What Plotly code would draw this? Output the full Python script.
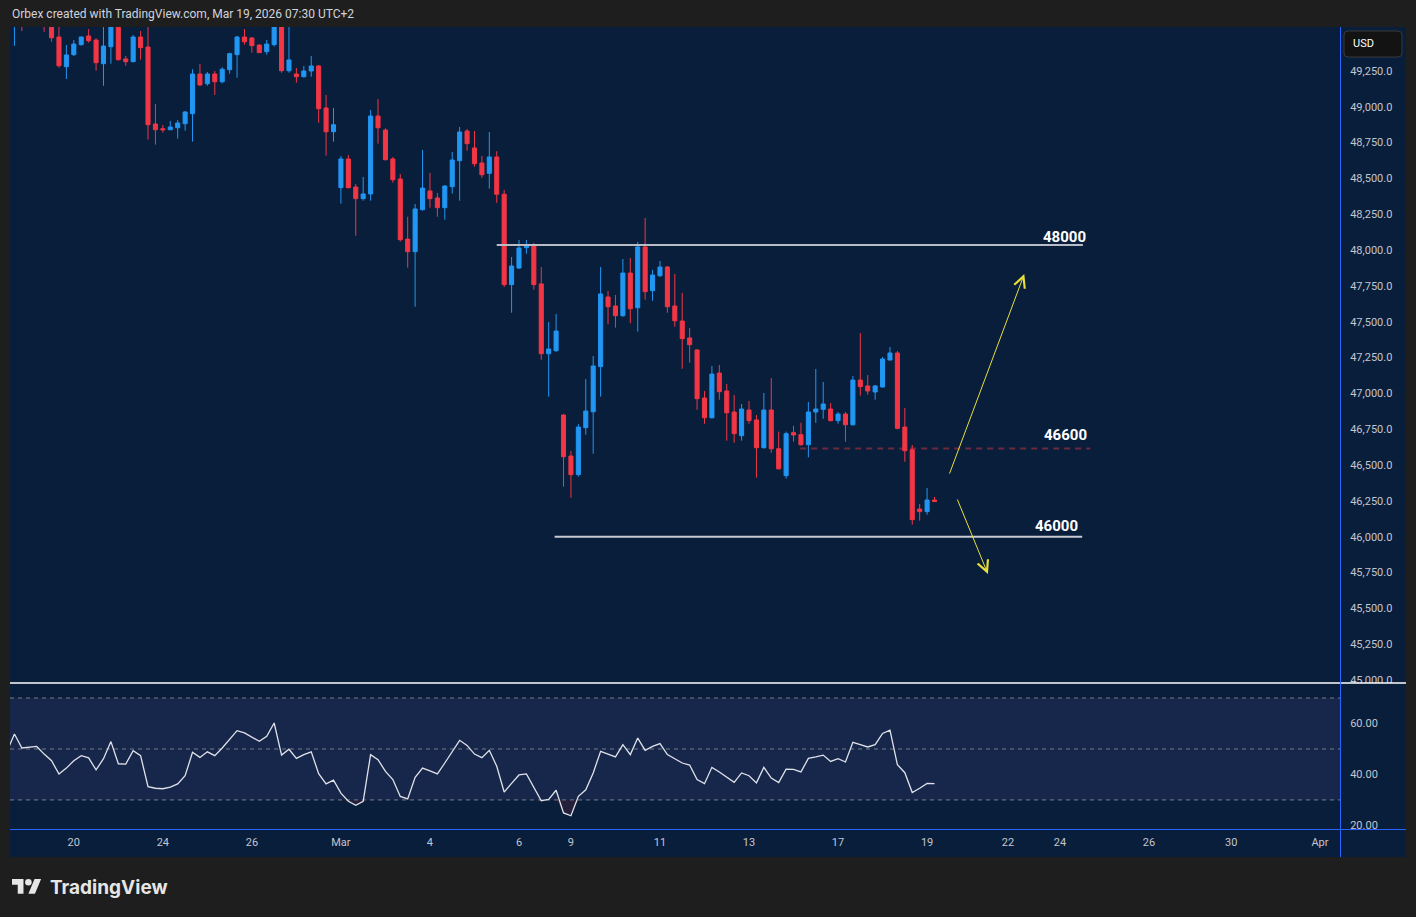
import plotly.graph_objects as go

# ---------------- data ----------------
bar_index = list(range(-8, 117))   # 4-hour bars; 0 = first bar of Feb 20

open_ = [
    49580, 49640, 49610, 49650, 49640, 49600, 49487, 49280,               # -8..-1
    49364, 49434, 49494, 49466, 49301, 49420, 49600, 49334, 49315, 49487,  # 0..9
    49417, 48880, 48847, 48840, 48854, 48882, 48952, 49229, 49161, 49229,  # 10..19
    49175, 49259, 49364, 49487, 49480, 49431, 49385, 49434, 49600, 49252,  # 20..29
    49229, 49210, 49250, 49285, 48992, 48826, 48436, 48636, 48440, 48359,  # 30..39
    48392, 48936, 48838, 48636, 48496, 48077, 47989, 48282, 48413, 48364,  # 40..49
    48296, 48443, 48624, 48831, 48713, 48608, 48536, 48650, 48390, 47759,  # 50..59
    47875, 48017, 48036, 47764, 47277, 47298, 46849, 46563, 46433, 46761,  # 60..69
    46872, 47187, 47673, 47610, 47542, 47840, 47598, 48022, 47717, 47821,  # 70..79
    47882, 47610, 47505, 47387, 47303, 46968, 46830, 47142, 47017, 46870,  # 80..89
    46705, 46884, 46815, 46621, 46884, 46614, 46426, 46726, 46712, 46642,  # 90..99
    46870, 46889, 46891, 46810, 46856, 46781, 47093, 47052, 47010, 47045,  # 100..109
    47233, 47282, 46765, 46607, 46193, 46175, 46256,                       # 110..116
]
high = [
    49700, 49700, 49700, 49720, 49700, 49650, 49600, 49431,
    49466, 49490, 49543, 49478, 49600, 49620, 49650, 49355, 49501, 49529,
    49570, 49020, 48873, 48901, 48908, 48971, 49262, 49299, 49243, 49250,
    49276, 49378, 49496, 49543, 49487, 49435, 49466, 49620, 49650, 49600,
    49271, 49285, 49355, 49292, 49083, 48992, 48657, 48664, 48461, 48510,
    48978, 49055, 48850, 48650, 48531, 48233, 48322, 48699, 48538, 48399,
    48454, 48685, 48859, 48845, 48831, 48657, 48824, 48690, 48420, 47952,
    48071, 48071, 48050, 47882, 47498, 47554, 46856, 46598, 46786, 47100,
    47261, 47882, 47715, 47687, 47938, 47945, 48057, 48224, 47861, 47924,
    47889, 47833, 47701, 47456, 47310, 47017, 47191, 47198, 47066, 46989,
    46926, 46947, 46849, 47003, 47107, 46733, 46733, 46774, 46795, 46940,
    47170, 47080, 46933, 46870, 46870, 47121, 47421, 47128, 47059, 47254,
    47324, 47296, 46898, 46640, 46228, 46340, 46277,
]
low = [
    49426, 49529, 49570, 49580, 49524, 49454, 49273, 49194,
    49355, 49426, 49448, 49252, 49147, 49301, 49322, 49287, 49310, 49329,
    48771, 48736, 48820, 48838, 48778, 48833, 48757, 49147, 49147, 49083,
    49164, 49231, 49203, 49434, 49378, 49375, 49364, 49420, 49238, 49238,
    49168, 49205, 49210, 48889, 48659, 48757, 48324, 48430, 48100, 48345,
    48345, 48743, 48625, 48470, 48059, 47877, 47605, 48275, 48296, 48233,
    48212, 48394, 48345, 48694, 48582, 48505, 48429, 48330, 47742, 47563,
    47868, 47975, 47724, 47235, 46977, 47290, 46349, 46272, 46419, 46712,
    46579, 46977, 47482, 47459, 47535, 47489, 47431, 47654, 47647, 47814,
    47563, 47465, 47172, 47214, 46886, 46788, 46825, 46956, 46670, 46656,
    46670, 46788, 46412, 46615, 46586, 46468, 46405, 46663, 46635, 46554,
    46795, 46823, 46805, 46788, 46663, 46775, 46984, 46991, 46956, 47040,
    47230, 46749, 46523, 46084, 46112, 46154, 46243,
]
close = [
    49650, 49590, 49650, 49620, 49590, 49482, 49287, 49362,
    49438, 49487, 49461, 49308, 49424, 49580, 49329, 49315, 49487, 49413,
    48875, 48840, 48840, 48859, 48887, 48964, 49229, 49152, 49229, 49175,
    49262, 49371, 49487, 49454, 49427, 49378, 49438, 49580, 49252, 49327,
    49210, 49250, 49285, 48987, 48826, 48875, 48636, 48436, 48359, 48392,
    48936, 48854, 48631, 48491, 48073, 47989, 48287, 48433, 48359, 48296,
    48447, 48629, 48824, 48743, 48603, 48526, 48650, 48390, 47759, 47889,
    48015, 48036, 47759, 47277, 47310, 47435, 46558, 46433, 46765, 46877,
    47191, 47694, 47605, 47542, 47840, 47591, 48022, 47710, 47826, 47882,
    47605, 47507, 47382, 47340, 46963, 46830, 47135, 47012, 46865, 46719,
    46891, 46810, 46621, 46884, 46614, 46474, 46719, 46710, 46642, 46870,
    46891, 46926, 46810, 46856, 46781, 47093, 47047, 47017, 47052, 47240,
    47282, 46756, 46600, 46119, 46175, 46256, 46245,
]

rsi_index = list(range(-9, 117))
rsi = [
    49.1, 55.9, 50.4, 50.6, 51.0, 48.0, 45.4, 40.2, 42.5,                # -9..-1
    45.4, 47.4, 46.5, 41.8, 46.2, 52.9, 44.2, 44.1, 49.3, 47.4,          # 0..9
    35.2, 34.6, 34.4, 35.0, 36.3, 39.5, 48.7, 46.7, 48.9, 47.4,          # 10..19
    50.4, 53.6, 57.2, 56.3, 54.8, 53.0, 55.0, 60.2, 47.6, 49.9,          # 20..29
    46.3, 47.8, 48.9, 40.3, 36.3, 37.8, 32.7, 29.5, 27.9, 29.5,          # 30..39
    47.8, 45.8, 41.2, 38.0, 31.4, 30.4, 38.9, 42.5, 41.4, 40.2,          # 40..49
    44.5, 48.7, 53.4, 51.4, 48.0, 46.6, 49.5, 43.2, 33.1, 36.5,          # 50..59
    39.8, 40.2, 35.0, 29.7, 30.2, 33.8, 24.9, 23.8, 31.4, 34.0,          # 60..69
    40.6, 49.1, 48.0, 46.9, 51.7, 47.8, 54.3, 49.5, 51.0, 52.1,          # 70..79
    47.8, 46.2, 44.5, 43.7, 38.0, 36.4, 42.8, 41.0, 38.9, 36.9,          # 80..89
    40.6, 39.5, 36.7, 42.8, 38.6, 36.8, 42.1, 42.0, 41.0, 46.3,          # 90..99
    46.9, 47.6, 45.1, 46.2, 44.9, 52.6, 51.7, 50.8, 51.7, 56.1,          # 100..109
    57.4, 43.8, 40.7, 32.9, 34.6, 36.5, 36.4,                            # 110..116
]

date_tick_pos = [0, 12, 24, 36, 48, 60, 67, 79, 91, 103, 115, 125.9, 132.9, 144.9, 156.0, 167.95]
date_tick_text = ["20", "24", "26", "Mar", "4", "6", "9", "11", "13", "17", "19", "22", "24", "26", "30", "Apr"]

price_ticks = [45000 + 250 * k for k in range(18)]   # 45,000 .. 49,250
rsi_ticks = [20, 40, 60]

level_prices = [48035, 46615, 46000]
level_labels = ["48000", "46600", "46000"]
level_start = [57.0, 97.9, 64.8]
level_end = [136.0, 137.0, 135.9]

assert len(open_) == len(high) == len(low) == len(close) == len(bar_index)
assert len(rsi) == len(rsi_index)

# ---------------- styling ----------------
W, H = 1416, 917
ML, MR, MT, MB = 10, 76, 27, 88
PW, PH = W - ML - MR, H - MT - MB
SPLIT_PX = 683
Y_SPLIT = (H - MB - SPLIT_PX) / PH

def PX(px):
    return (px - ML) / PW

def PY(py):
    return (H - MB - py) / PH

OUTER = "#1e1e1e"
NAVY = "#091e3b"
BAND = "#17274b"
UP = "#2196f3"
DN = "#f23645"
AXBLUE = "#2962ff"
TXT = "#c3c6ce"
FONT = "Roboto, Arial, sans-serif"

X_RANGE = [-8.6, 170.65]

fig = go.Figure()

fig.add_trace(go.Candlestick(
    x=bar_index, open=open_, high=high, low=low, close=close,
    increasing=dict(line=dict(color=UP, width=1), fillcolor=UP),
    decreasing=dict(line=dict(color=DN, width=1), fillcolor=DN),
    whiskerwidth=0, xaxis="x", yaxis="y", showlegend=False, hoverinfo="skip",
))

# faint oversold fill under RSI 30
fig.add_trace(go.Scatter(
    x=rsi_index, y=[30] * len(rsi), mode="lines", line=dict(width=0),
    xaxis="x2", yaxis="y2", showlegend=False, hoverinfo="skip",
))
fig.add_trace(go.Scatter(
    x=rsi_index, y=[min(v, 30) for v in rsi], mode="lines", line=dict(width=0),
    fill="tonexty", fillcolor="rgba(160,45,60,0.18)",
    xaxis="x2", yaxis="y2", showlegend=False, hoverinfo="skip",
))
fig.add_trace(go.Scatter(
    x=rsi_index, y=rsi, mode="lines", line=dict(color="#dfe2e8", width=1.3),
    xaxis="x2", yaxis="y2", showlegend=False, hoverinfo="skip",
))

shapes = []
# navy chart panel
shapes.append(dict(type="rect", xref="paper", yref="paper",
                   x0=PX(10), x1=PX(1406), y0=PY(857), y1=PY(27),
                   fillcolor=NAVY, line=dict(width=0), layer="below"))
# RSI band and levels
shapes.append(dict(type="rect", xref="x2 domain", yref="y2", x0=0, x1=1, y0=30, y1=70,
                   fillcolor=BAND, line=dict(width=0), layer="below"))
for lv in (70, 50, 30):
    shapes.append(dict(type="line", xref="x2 domain", yref="y2", x0=0, x1=1, y0=lv, y1=lv,
                       line=dict(color="#787b86", width=1, dash="4px,4px"), layer="below"))

# horizontal drawn levels
level_styles = [
    dict(color="#b8bcc6", width=2),
    dict(color="rgba(242,54,69,0.45)", width=2, dash="6px,5px"),
    dict(color="#c8cbd3", width=2),
]
for p, x0, x1, st in zip(level_prices, level_start, level_end, level_styles):
    shapes.append(dict(type="line", xref="x", yref="y", x0=x0, x1=x1, y0=p, y1=p,
                       line=st, layer="above"))

# hide the halves of the clipped axis labels
shapes.append(dict(type="rect", xref="paper", yref="paper", x0=PX(1341), x1=PX(1406),
                   y0=PY(700), y1=PY(683), fillcolor=NAVY, line=dict(width=0), layer="above"))
shapes.append(dict(type="rect", xref="paper", yref="paper", x0=PX(1341), x1=PX(1406),
                   y0=PY(846), y1=PY(829), fillcolor=NAVY, line=dict(width=0), layer="above"))
# pane separator
shapes.append(dict(type="line", xref="paper", yref="paper", x0=PX(10), x1=PX(1406),
                   y0=PY(683), y1=PY(683), line=dict(color="#ffffff", width=1.5), layer="above"))
# axis borders
shapes.append(dict(type="line", xref="paper", yref="paper", x0=PX(1340.5), x1=PX(1340.5),
                   y0=PY(857), y1=PY(27), line=dict(color=AXBLUE, width=1), layer="above"))
shapes.append(dict(type="line", xref="paper", yref="paper", x0=PX(10), x1=PX(1406),
                   y0=PY(829.5), y1=PY(829.5), line=dict(color=AXBLUE, width=1), layer="above"))

# USD box with rounded corners
bx0, bx1, by0, by1, r = 1344, 1402, 31, 57, 4
usd_path = (
    f"M {PX(bx0 + r)},{PY(by0)} L {PX(bx1 - r)},{PY(by0)} "
    f"Q {PX(bx1)},{PY(by0)} {PX(bx1)},{PY(by0 + r)} L {PX(bx1)},{PY(by1 - r)} "
    f"Q {PX(bx1)},{PY(by1)} {PX(bx1 - r)},{PY(by1)} L {PX(bx0 + r)},{PY(by1)} "
    f"Q {PX(bx0)},{PY(by1)} {PX(bx0)},{PY(by1 - r)} L {PX(bx0)},{PY(by0 + r)} "
    f"Q {PX(bx0)},{PY(by0)} {PX(bx0 + r)},{PY(by0)} Z"
)
shapes.append(dict(type="path", xref="paper", yref="paper", path=usd_path,
                   fillcolor="#131313", line=dict(color="#3a3a3a", width=1), layer="above"))

# TradingView logo icon
s, ox, oy = 0.82, 12, 879

def logo_pt(u, v):
    return f"{PX(ox + u * s):.5f},{PY(oy + (v - 4) * s):.5f}"

def logo_path(pts):
    return "M " + " L ".join(logo_pt(u, v) for u, v in pts) + " Z"

LOGO = "#e6e6e6"
shapes.append(dict(type="path", xref="paper", yref="paper",
                   path=logo_path([(0, 4), (14, 4), (14, 22), (7, 22), (7, 11), (0, 11)]),
                   fillcolor=LOGO, line=dict(width=0), layer="above"))
shapes.append(dict(type="path", xref="paper", yref="paper",
                   path=logo_path([(20, 22), (27.5, 4), (35.5, 4), (28, 22)]),
                   fillcolor=LOGO, line=dict(width=0), layer="above"))
shapes.append(dict(type="circle", xref="paper", yref="paper",
                   x0=PX(ox + 16 * s), x1=PX(ox + 24 * s), y0=PY(oy + 8 * s), y1=PY(oy),
                   fillcolor=LOGO, line=dict(width=0), layer="above"))

annotations = []
annotations.append(dict(xref="paper", yref="paper", x=PX(10), y=PY(14), xanchor="left", yanchor="middle",
                        text="Orbex created with TradingView.com, Mar 19, 2026 07:30 UTC+2",
                        showarrow=False, font=dict(family=FONT, size=12, color="#d1d4dc")))
annotations.append(dict(xref="paper", yref="paper", x=PX(1363.5), y=PY(44), xanchor="center", yanchor="middle",
                        text="USD", showarrow=False, font=dict(family=FONT, size=11, color="#ffffff")))
annotations.append(dict(xref="paper", yref="paper", x=PX(48), y=PY(887), xanchor="left", yanchor="middle",
                        text="<b>TradingView</b>", showarrow=False,
                        font=dict(family="Inter, Roboto, sans-serif", size=19, color=LOGO)))

label_pos = [(133.5, 48091), (133.6, 46710), (132.5, 46075)]
for (lx, ly), txt in zip(label_pos, level_labels):
    annotations.append(dict(xref="x", yref="y", x=lx, y=ly, xanchor="center", yanchor="middle",
                            text=f"<b>{txt}</b>", showarrow=False,
                            font=dict(family=FONT, size=15, color="#ffffff")))

# yellow scenario arrows (head, tail)
arrows = [((128.1, 47833), (117.95, 46430)), ((123.2, 45740), (119.0, 46270))]
for (hx, hy), (tx, ty) in arrows:
    annotations.append(dict(xref="x", yref="y", x=hx, y=hy, axref="x", ayref="y", ax=tx, ay=ty,
                            text="", showarrow=True, arrowhead=5, arrowsize=2.2, arrowwidth=1,
                            arrowcolor="#e8df3c", standoff=0, startstandoff=0))

axis_font = dict(family=FONT, size=11, color=TXT)

fig.update_layout(
    width=W, height=H, autosize=False,
    margin=dict(l=ML, r=MR, t=MT, b=MB, pad=0),
    paper_bgcolor=OUTER, plot_bgcolor=NAVY,
    boxgap=0.45, boxgroupgap=0,
    showlegend=False,
    xaxis=dict(domain=[0, 1], anchor="y", range=X_RANGE, showticklabels=False, showgrid=False,
               zeroline=False, showline=False, ticks="", rangeslider=dict(visible=False),
               fixedrange=True),
    yaxis=dict(domain=[Y_SPLIT, 1], anchor="x", side="right", range=[44979, 49557],
               tickmode="array", tickvals=price_ticks, tickformat=",.1f",
               showgrid=False, zeroline=False, showline=False,
               ticks="outside", ticklen=7, tickcolor="rgba(0,0,0,0)", tickfont=axis_font,
               fixedrange=True),
    xaxis2=dict(domain=[0, 1], anchor="y2", range=X_RANGE, tickmode="array",
                tickvals=date_tick_pos, ticktext=date_tick_text, showgrid=False, zeroline=False,
                showline=False, ticks="outside", ticklen=3, tickcolor="rgba(0,0,0,0)",
                tickfont=axis_font, fixedrange=True),
    yaxis2=dict(domain=[0, Y_SPLIT], anchor="x2", side="right", range=[18.6, 75.9],
                tickmode="array", tickvals=rsi_ticks, tickformat=".2f",
                showgrid=False, zeroline=False, showline=False,
                ticks="outside", ticklen=7, tickcolor="rgba(0,0,0,0)", tickfont=axis_font,
                fixedrange=True),
    shapes=shapes,
    annotations=annotations,
)

fig.write_html(
    "out.html",
    config={"displayModeBar": False},
    post_script="document.body.style.margin='0px';document.body.style.overflow='hidden';"
                "document.body.style.background='#1e1e1e';",
)
